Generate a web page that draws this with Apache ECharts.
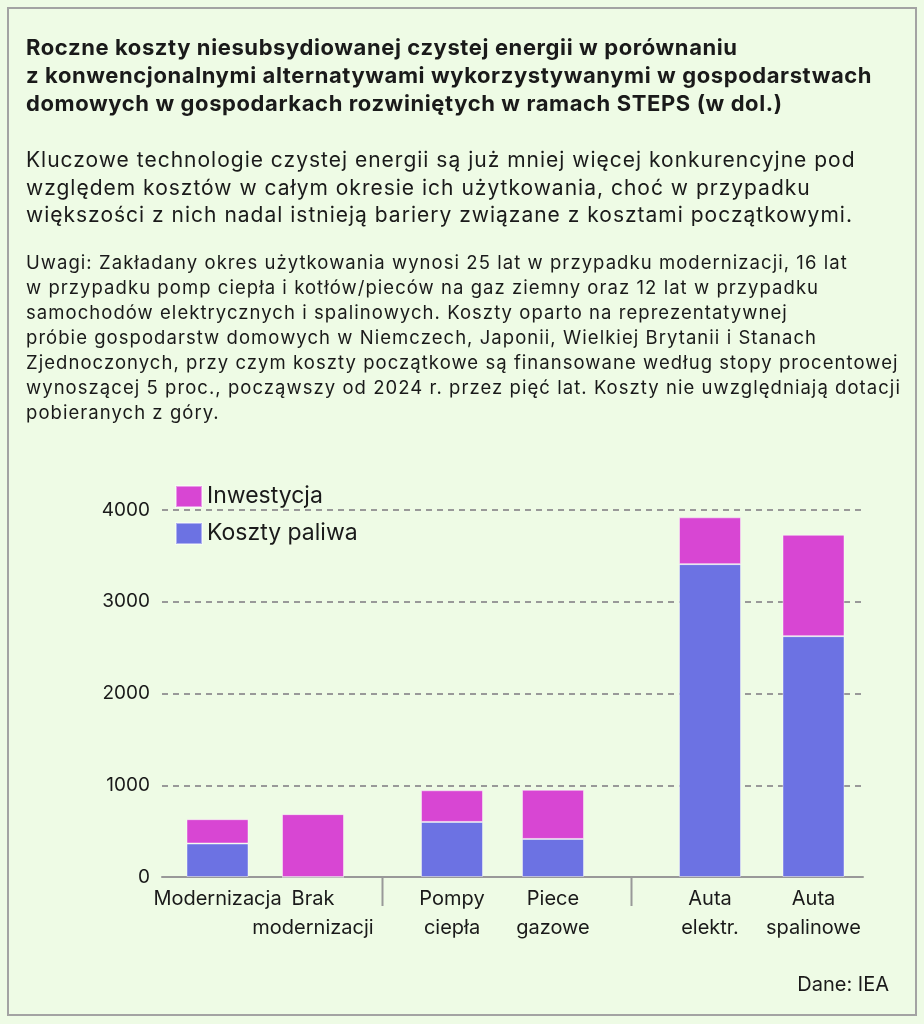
<!DOCTYPE html>
<html><head><meta charset="utf-8">
<script src="https://cdn.jsdelivr.net/npm/echarts@6/dist/echarts.min.js"></script>
<style>
html,body{margin:0;padding:0;background:#eefbe5;}
#wrap{position:relative;width:924px;height:1024px;background:#eefbe5;font-family:Inter,"Noto Sans",sans-serif;color:#1a1a1a;}
#box{position:absolute;left:7px;top:7px;width:906px;height:1005px;border:2px solid #a3a3a3;box-sizing:content-box;}
#chart{position:absolute;left:0;top:0;width:924px;height:1024px;}
.t{position:absolute;left:26px;white-space:nowrap;}
#title{top:33px;font-size:22px;font-weight:700;line-height:28px;letter-spacing:0.6px;}
#sub{top:146px;font-size:21px;line-height:27.5px;letter-spacing:1.0px;}
#notes{top:249.5px;font-size:18.5px;line-height:25px;letter-spacing:1.05px;}
#src{position:absolute;right:35px;top:972px;font-size:20px;}
</style></head>
<body><div id="wrap">
<div id="box"></div>
<div id="chart"></div>
<div class="t" id="title">Roczne koszty niesubsydiowanej czystej energii w porównaniu<br>z konwencjonalnymi alternatywami wykorzystywanymi w gospodarstwach<br>domowych w gospodarkach rozwiniętych w ramach STEPS (w dol.)</div>
<div class="t" id="sub">Kluczowe technologie czystej energii są już mniej więcej konkurencyjne pod<br>względem kosztów w całym okresie ich użytkowania, choć w przypadku<br>większości z nich nadal istnieją bariery związane z kosztami początkowymi.</div>
<div class="t" id="notes">Uwagi: Zakładany okres użytkowania wynosi 25 lat w przypadku modernizacji, 16 lat<br>w przypadku pomp ciepła i kotłów/pieców na gaz ziemny oraz 12 lat w przypadku<br>samochodów elektrycznych i spalinowych. Koszty oparto na reprezentatywnej<br>próbie gospodarstw domowych w Niemczech, Japonii, Wielkiej Brytanii i Stanach<br>Zjednoczonych, przy czym koszty początkowe są finansowane według stopy procentowej<br>wynoszącej 5 proc., począwszy od 2024 r. przez pięć lat. Koszty nie uwzględniają dotacji<br>pobieranych z góry.</div>
<div id="src">Dane: IEA</div>
</div>
<script>
// ---- data ----
const groupA = ['Modernizacja', 'Brak\nmodernizacji'];
const groupB = ['Pompy\nciepła', 'Piece\ngazowe'];
const groupC = ['Auta\nelektr.', 'Auta\nspalinowe'];
const fuelA = [365, 0];
const fuelB = [600, 415];
const fuelC = [3410, 2625];
const investA = [265, 685];
const investB = [345, 535];
const investC = [510, 1105];
const yTicks = [0, 1000, 2000, 3000, 4000];
const seriesNames = ['Inwestycja', 'Koszty paliwa'];

const groups = [groupA, groupB, groupC];
const fuels = [fuelA, fuelB, fuelC];
const invests = [investA, investB, investC];

const C_INV = '#d846d3', C_FUEL = '#6c72e3', GRID = '#999999', TXT = '#1a1a1a';
const TOP = 510, BOTTOM = 147;
const barGrids = [
  {left: 169.75, width: 191},
  {left: 401.5, width: 202},
  {left: 658.25, width: 207}
];

const chart = echarts.init(document.getElementById('chart'));
const grid = [{left: 162, width: 701, top: TOP, bottom: BOTTOM}];
const xAxis = [{gridIndex: 0, type: 'value', min: 0, max: 1, axisLine: {show: true, onZero: false, lineStyle: {color: GRID, width: 2}},
  axisTick: {show: false}, axisLabel: {show: false}, splitLine: {show: false}}];
const yAxis = [{gridIndex: 0, type: 'value', min: yTicks[0], max: yTicks[yTicks.length - 1], interval: 1000,
  axisLine: {show: false}, axisTick: {show: false},
  axisLabel: {color: TXT, fontSize: 19, fontFamily: 'Inter', margin: 12, formatter: v => String(v)},
  splitLine: {show: true, lineStyle: {color: GRID, width: 2, type: [6, 5]}}}];
const series = [];
barGrids.forEach((g, i) => {
  grid.push({left: g.left, width: g.width, top: TOP, bottom: BOTTOM});
  xAxis.push({gridIndex: i + 1, type: 'category', data: groups[i],
    axisLine: {show: false}, axisTick: {show: false},
    axisLabel: {color: TXT, fontSize: 20, fontFamily: 'Inter', lineHeight: 29, margin: 7, interval: 0}});
  yAxis.push({gridIndex: i + 1, type: 'value', min: 0, max: 4000, show: false});
  series.push({name: seriesNames[1], type: 'bar', stack: 's' + i, xAxisIndex: i + 1, yAxisIndex: i + 1,
    data: fuels[i], barWidth: 62, itemStyle: {color: C_FUEL, borderColor: 'rgba(255,255,255,0.45)', borderWidth: 1}});
  series.push({name: seriesNames[0], type: 'bar', stack: 's' + i, xAxisIndex: i + 1, yAxisIndex: i + 1,
    data: invests[i], barWidth: 62, itemStyle: {color: C_INV, borderColor: 'rgba(255,255,255,0.45)', borderWidth: 1}});
});
chart.setOption({
  animation: false,
  backgroundColor: 'transparent',
  grid, xAxis, yAxis, series,
  legend: {data: seriesNames, orient: 'vertical', left: 175, top: 485, padding: 0, itemWidth: 26, itemHeight: 21, itemGap: 14,
    icon: 'rect', selectedMode: false, textStyle: {color: TXT, fontSize: 23, lineHeight: 21, fontFamily: 'Inter'}}
});
// group separators midway between adjacent groups
const seps = [];
for (let i = 0; i < groups.length - 1; i++) {
  const a = chart.convertToPixel({xAxisIndex: i + 1}, groups[i][groups[i].length - 1]);
  const b = chart.convertToPixel({xAxisIndex: i + 2}, groups[i + 1][0]);
  const y0 = chart.convertToPixel({yAxisIndex: 0}, 0);
  const x = (a + b) / 2;
  seps.push({type: 'line', shape: {x1: x, y1: y0, x2: x, y2: y0 + 29}, style: {stroke: GRID, lineWidth: 2}});
}
chart.setOption({graphic: seps});
</script>
</body></html>
